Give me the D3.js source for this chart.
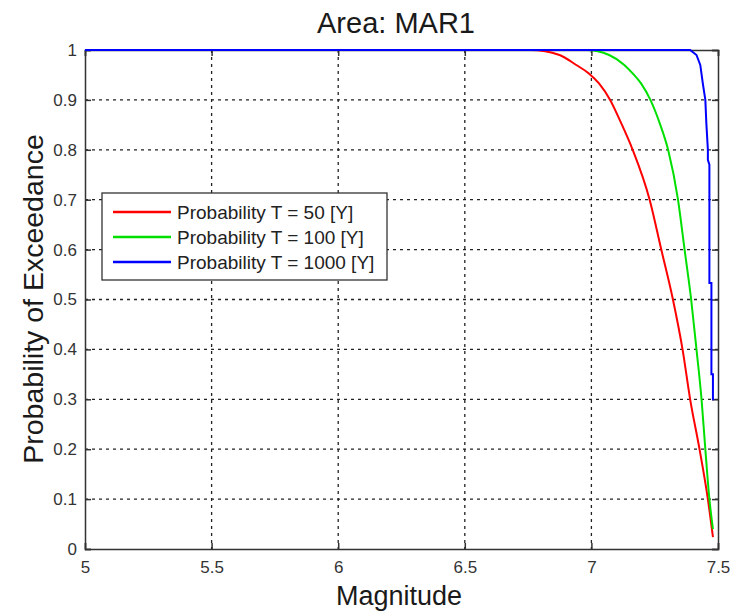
<!DOCTYPE html>
<html>
<head>
<meta charset="utf-8">
<script src="https://cdn.jsdelivr.net/npm/d3@7"></script>
<style>
  body { margin: 0; background: #fff; }
  text { font-family: "Liberation Sans", Arial, sans-serif; }
</style>
</head>
<body>
<svg id="chart"></svg>
<script>
// data
const xTicks = [5, 5.5, 6, 6.5, 7, 7.5];
const yTicks = [0, 0.1, 0.2, 0.3, 0.4, 0.5, 0.6, 0.7, 0.8, 0.9, 1];

const magT50 = [5, 6.76, 6.874, 6.94, 6.99, 7.03, 7.074, 7.118, 7.163, 7.23, 7.276, 7.322, 7.36, 7.39, 7.427, 7.46, 7.48];
const probT50 = [1, 1, 0.99, 0.97, 0.953, 0.933, 0.9, 0.853, 0.8, 0.7, 0.6, 0.5, 0.4, 0.3, 0.2, 0.1, 0.024];

const magT100 = [5, 6.98, 7.07, 7.13, 7.163, 7.196, 7.233, 7.27, 7.303, 7.342, 7.368, 7.394, 7.415, 7.435, 7.45, 7.466, 7.48];
const probT100 = [1, 1, 0.99, 0.97, 0.953, 0.933, 0.9, 0.853, 0.8, 0.7, 0.6, 0.5, 0.4, 0.3, 0.2, 0.1, 0.04];

const magT1000 = [5, 7.39, 7.415, 7.43, 7.44, 7.45, 7.454, 7.46, 7.46, 7.466, 7.466, 7.474, 7.474, 7.48, 7.48, 7.485];
const probT1000 = [1, 1, 0.99, 0.97, 0.933, 0.9, 0.853, 0.8, 0.78, 0.77, 0.533, 0.533, 0.35, 0.35, 0.3, 0.3];

const seriesNames = ["Probability T = 50 [Y]", "Probability T = 100 [Y]", "Probability T = 1000 [Y]"];
const seriesColors = ["#ff0000", "#00e000", "#0000ff"];

setupChart();

function setupChart() {
    const WIDTH = 732;
    const HEIGHT = 613;
    const left = 85, right = 718, top = 50, bottom = 549;

    const svg = d3.select("#chart")
        .attr("width", WIDTH)
        .attr("height", HEIGHT);

    const x = d3.scaleLinear().domain([5, 7.5]).range([left, right]);
    const y = d3.scaleLinear().domain([0, 1]).range([bottom, top]);

    // grid
    svg.append("g").selectAll("line")
        .data(xTicks.slice(1, -1))
        .enter().append("line")
        .attr("x1", d => x(d)).attr("x2", d => x(d))
        .attr("y1", top).attr("y2", bottom)
        .attr("stroke", "#222").attr("stroke-width", 1.3)
        .attr("stroke-dasharray", "3,4");
    svg.append("g").selectAll("line")
        .data(yTicks.slice(1, -1))
        .enter().append("line")
        .attr("y1", d => y(d)).attr("y2", d => y(d))
        .attr("x1", left).attr("x2", right)
        .attr("stroke", "#222").attr("stroke-width", 1.3)
        .attr("stroke-dasharray", "3,4");

    // axes with inward ticks
    const axB = svg.append("g").attr("transform", `translate(0,${bottom})`)
        .call(d3.axisBottom(x).tickValues(xTicks).tickSize(-6).tickPadding(12).tickFormat(d3.format("")));
    const axT = svg.append("g").attr("transform", `translate(0,${top})`)
        .call(d3.axisTop(x).tickValues(xTicks).tickSize(-6).tickFormat(""));
    const axL = svg.append("g").attr("transform", `translate(${left},0)`)
        .call(d3.axisLeft(y).tickValues(yTicks).tickSize(-6).tickPadding(8).tickFormat(d3.format("")));
    const axR = svg.append("g").attr("transform", `translate(${right},0)`)
        .call(d3.axisRight(y).tickValues(yTicks).tickSize(-6).tickFormat(""));
    [axB, axT, axL, axR].forEach(a => {
        a.select(".domain").attr("stroke", "#333").attr("stroke-width", 1.5);
        a.selectAll(".tick line").attr("stroke", "#333").attr("stroke-width", 1.5);
        a.selectAll("text").attr("fill", "#333")
            .style("font-size", "17px")
            .style("font-family", "'Liberation Sans', Arial, sans-serif");
    });

    // curves
    const line = d3.line().x(d => x(d[0])).y(d => y(d[1])).curve(d3.curveMonotoneX);
    const lineLin = d3.line().x(d => x(d[0])).y(d => y(d[1]));
    const series = [
        d3.zip(magT50, probT50),
        d3.zip(magT100, probT100),
        d3.zip(magT1000, probT1000)
    ];
    series.forEach((s, i) => {
        svg.append("path")
            .datum(s)
            .attr("d", i === 2 ? lineLin : line)
            .attr("fill", "none")
            .attr("stroke", seriesColors[i])
            .attr("stroke-width", 2);
    });

    // legend
    const lg = svg.append("g");
    lg.append("rect")
        .attr("x", 102).attr("y", 193).attr("width", 285).attr("height", 87)
        .attr("fill", "#fff").attr("stroke", "#333").attr("stroke-width", 1.3);
    seriesNames.forEach((n, i) => {
        const yy = 212 + i * 25;
        lg.append("line").attr("x1", 113).attr("x2", 171).attr("y1", yy).attr("y2", yy)
            .attr("stroke", seriesColors[i]).attr("stroke-width", 2.5);
        lg.append("text").attr("x", 177).attr("y", yy + 7)
            .attr("font-size", 19).attr("fill", "#222").text(n);
    });

    // titles
    svg.append("text").attr("x", 396).attr("y", 33).attr("text-anchor", "middle")
        .attr("font-size", 29).attr("fill", "#1a1a1a").text("Area: MAR1");
    svg.append("text").attr("x", 399).attr("y", 605).attr("text-anchor", "middle")
        .attr("font-size", 27).attr("fill", "#1a1a1a").text("Magnitude");
    svg.append("text").attr("transform", `translate(43,${(130 + 468) / 2}) rotate(-90)`)
        .attr("text-anchor", "middle")
        .attr("font-size", 28.5).attr("fill", "#1a1a1a").text("Probability of Exceedance");
}
</script>
</body>
</html>
